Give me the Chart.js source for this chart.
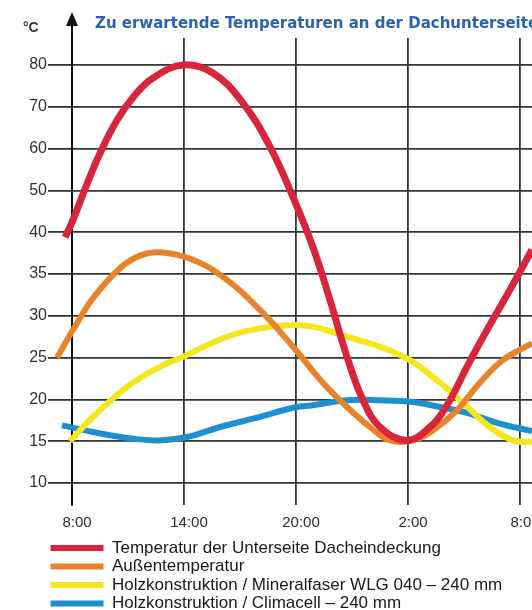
<!DOCTYPE html>
<html>
<head>
<meta charset="utf-8">
<script src="https://cdn.jsdelivr.net/npm/chart.js@4"></script>
<style>
  html, body { margin: 0; padding: 0; background: #ffffff; }
  #wrap { position: relative; width: 532px; height: 610px; }
</style>
</head>
<body>
<div id="wrap"><canvas id="c"></canvas></div>
<script>
// ---- data ----
const chartTitle = 'Zu erwartende Temperaturen an der Dachunterseite';
const unitLabel = '°C';
const yTickLabels = [10, 15, 20, 25, 30, 35, 40, 50, 60, 70, 80];   // equally spaced on the axis
const xTickHours = [8, 14, 20, 26, 32];                                // 26 = 2:00 next day
const seriesNames = [
  'Temperatur der Unterseite Dacheindeckung',
  'Außentemperatur',
  'Holzkonstruktion / Mineralfaser WLG 040 – 240 mm',
  'Holzkonstruktion / Climacell – 240 mm'
];
const seriesColors = ['#d8253b', '#e8832c', '#f5e71e', '#1d90d0'];

const redHours = [7.63, 8.05, 8.80, 9.50, 10.41, 11.37, 12.34, 13.95, 15.55, 17.16, 18.61, 19.84, 20.91, 21.82, 22.73, 23.59, 24.50, 25.94, 27.18, 28.09, 29.16, 30.23, 31.46, 32.64];
const redTemps = [39.4, 42.9, 51.5, 58.9, 66.8, 72.8, 76.9, 80.0, 78.1, 70.9, 60.4, 48.4, 38.2, 31.9, 25.1, 19.9, 16.7, 15.1, 16.7, 19.3, 23.9, 28.3, 33.1, 37.9];

const orangeHours = [7.20, 8.05, 9.12, 10.57, 11.64, 12.71, 14.48, 16.30, 18.07, 19.84, 21.44, 22.73, 23.96, 25.03, 26.26, 27.34, 28.62, 29.85, 31.08, 32.64];
const orangeTemps = [25.0, 28.3, 32.1, 35.7, 37.2, 37.6, 36.7, 34.3, 30.7, 26.3, 22.0, 19.1, 16.7, 15.1, 15.1, 16.3, 18.7, 22.0, 24.7, 26.7];

const yellowHours = [7.89, 9.12, 10.95, 12.71, 13.95, 16.30, 18.07, 19.84, 20.91, 22.73, 24.50, 26.10, 27.55, 28.94, 30.39, 31.62, 32.64];
const yellowTemps = [15.0, 17.9, 21.5, 23.9, 25.1, 27.5, 28.5, 28.9, 28.7, 27.5, 26.3, 24.7, 22.3, 19.6, 16.7, 15.1, 14.9];

const blueHours = [7.46, 9.12, 10.95, 12.71, 14.16, 15.93, 18.07, 19.84, 20.91, 22.73, 24.50, 26.26, 27.71, 29.16, 30.76, 32.64];
const blueTemps = [16.9, 16.1, 15.4, 15.1, 15.5, 16.7, 17.9, 19.0, 19.3, 19.9, 19.9, 19.7, 19.1, 18.4, 17.2, 16.2];

// ---- helpers: the y axis is piecewise linear (10..40 step 5, then 40..80 step 10) ----
function toAxis(v) {
  for (let i = 0; i < yTickLabels.length - 1; i++) {
    const a = yTickLabels[i], b = yTickLabels[i + 1];
    if (v <= b || i === yTickLabels.length - 2) return i + (v - a) / (b - a);
  }
  return 0;
}
function points(hours, temps) {
  return hours.map((h, i) => ({ x: h, y: toAxis(temps[i]) }));
}
const allSeries = [
  points(redHours, redTemps),
  points(orangeHours, orangeTemps),
  points(yellowHours, yellowTemps),
  points(blueHours, blueTemps)
];
const lineWidths = [7, 6, 6, 6];

const gridColor = '#353535';
const FONT = '"Liberation Sans", Arial, sans-serif';

const decorPlugin = {
  id: 'decor',
  afterLayout(chart) {
    if (chart.legend) {
      chart.legend.left = 49;
      chart.legend.right = 532;
    }
  },
  afterDraw(chart) {
    const ctx = chart.ctx;
    const area = chart.chartArea;
    const ax = chart.scales.x.getPixelForValue(xTickHours[0]);
    ctx.save();
    // axis arrow
    ctx.strokeStyle = '#111';
    ctx.fillStyle = '#111';
    ctx.lineWidth = 2;
    ctx.beginPath();
    ctx.moveTo(ax, area.top + 1);
    ctx.lineTo(ax, 22);
    ctx.stroke();
    ctx.beginPath();
    ctx.moveTo(ax, 12);
    ctx.lineTo(ax - 6, 26);
    ctx.lineTo(ax + 6, 26);
    ctx.closePath();
    ctx.fill();
    // unit
    ctx.font = 'bold 14px ' + FONT;
    ctx.fillStyle = '#333';
    ctx.textAlign = 'left';
    ctx.textBaseline = 'middle';
    ctx.fillText(unitLabel, 23, 28);
    // title
    ctx.font = 'bold 15px "DejaVu Sans", sans-serif';
    ctx.fillStyle = '#2b63b3';
    ctx.fillText(chartTitle, 95, 24);
    ctx.restore();
  }
};

new Chart(document.getElementById('c'), {
  type: 'line',
  data: {
    datasets: seriesNames.map((name, i) => ({
      label: name,
      data: allSeries[i],
      borderColor: seriesColors[i],
      backgroundColor: seriesColors[i],
      borderWidth: lineWidths[i],
      pointRadius: 0,
      tension: 0.4,
      fill: false,
      clip: false
    }))
  },
  options: {
    responsive: true,
    maintainAspectRatio: false,
    animation: false,
    layout: { padding: { left: 0, top: 38, right: 0, bottom: -12 } },
    plugins: {
      title: { display: false },
      tooltip: { enabled: false },
      legend: {
        display: true,
        position: 'bottom',
        align: 'start',
        labels: {
          boxWidth: 53,
          boxHeight: 6,
          padding: 1.5,
          color: '#1a1a1a',
          font: { family: FONT, size: 17 },
          generateLabels(chart) {
            return Chart.defaults.plugins.legend.labels.generateLabels(chart).map(l => ({
              ...l, lineWidth: 0, fillStyle: l.strokeStyle
            }));
          }
        }
      }
    },
    scales: {
      x: {
        type: 'linear',
        min: 8,
        max: 8 + (xTickHours[4] - xTickHours[0]) * 460 / 448,
        afterBuildTicks(scale) { scale.ticks = xTickHours.map(v => ({ value: v })); },
        afterFit(scale) { scale.height = 33; scale.paddingLeft = 0; scale.paddingRight = 0; },
        grid: { color: gridColor, lineWidth: 1.8, drawTicks: false },
        border: { display: false },
        ticks: {
          padding: 9,
          labelOffset: 5,
          color: '#2e2e2e',
          font: { family: FONT, size: 15 },
          callback: v => (v % 24) + ':00'
        }
      },
      y: {
        type: 'linear',
        min: -0.526,
        max: 10.646,
        afterBuildTicks(scale) { scale.ticks = yTickLabels.map((_, i) => ({ value: i })); },
        afterFit(scale) { scale.width = 72; scale.paddingTop = 0; scale.paddingBottom = 0; },
        grid: { color: gridColor, lineWidth: 1.8, drawTicks: true, tickLength: 24, tickColor: gridColor },
        border: { display: true, color: '#111', width: 2 },
        ticks: {
          padding: 1,
          color: '#333',
          font: { family: FONT, size: 16 },
          callback: v => yTickLabels[Math.round(v)]
        }
      }
    }
  },
  plugins: [decorPlugin]
});
</script>
</body>
</html>
